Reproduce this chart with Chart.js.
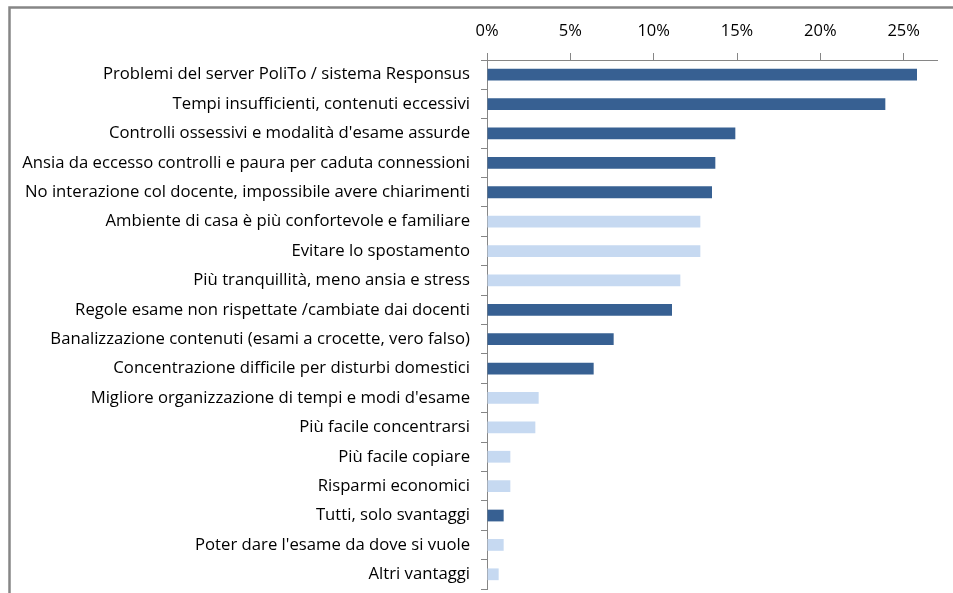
<!DOCTYPE html>
<html>
<head>
<meta charset="utf-8">
<script src="https://cdn.jsdelivr.net/npm/chart.js@4/dist/chart.umd.min.js"></script>
<style>
  html, body { margin: 0; padding: 0; background: #fff; }
  #wrap { width: 953px; height: 593px; }
</style>
</head>
<body>
<div id="wrap"><canvas id="chart" width="953" height="593"></canvas></div>
<script>
const categories = [
  "Problemi del server PoliTo / sistema Responsus",
  "Tempi insufficienti, contenuti eccessivi",
  "Controlli ossessivi e modalità d'esame assurde",
  "Ansia da eccesso controlli e paura per caduta connessioni",
  "No interazione col docente, impossibile avere chiarimenti",
  "Ambiente di casa è più confortevole e familiare",
  "Evitare lo spostamento",
  "Più tranquillità, meno ansia e stress",
  "Regole esame non rispettate /cambiate dai docenti",
  "Banalizzazione contenuti (esami a crocette, vero falso)",
  "Concentrazione difficile per disturbi domestici",
  "Migliore organizzazione di tempi e modi d'esame",
  "Più facile concentrarsi",
  "Più facile copiare",
  "Risparmi economici",
  "Tutti, solo svantaggi",
  "Poter dare l'esame da dove si vuole",
  "Altri vantaggi"
];
const percentages = [25.8, 23.9, 14.9, 13.7, 13.5, 12.8, 12.8, 11.6, 11.1, 7.6, 6.4, 3.1, 2.9, 1.4, 1.4, 1.0, 1.0, 0.7];
// true = svantaggio (dark), false = vantaggio (light)
const isDisadvantage = [true, true, true, true, true, false, false, false, true, true, true, false, false, false, false, true, false, false];
const xTicks = [0, 5, 10, 15, 20, 25];

const DARK = "#376092";
const LIGHT = "#c6d9f1";
const AXIS = "#868686";
const FONT = "'Open Sans', sans-serif";

const frame = {
  id: "frame",
  beforeDraw(chart) {
    const ctx = chart.ctx;
    ctx.save();
    ctx.strokeStyle = AXIS;
    ctx.lineWidth = 2.5;
    ctx.strokeRect(9.5, 7.5, 1200, 1200);
    ctx.restore();
  }
};

new Chart(document.getElementById("chart"), {
  type: "bar",
  data: {
    labels: categories,
    datasets: [{
      data: percentages,
      backgroundColor: isDisadvantage.map(d => (d ? DARK : LIGHT)),
      barPercentage: 0.4,
      categoryPercentage: 1.0
    }]
  },
  options: {
    indexAxis: "y",
    responsive: false,
    animation: false,
    events: [],
    layout: { padding: { left: 0, right: 16, top: 0, bottom: 4 } },
    plugins: { legend: { display: false }, tooltip: { enabled: false } },
    scales: {
      x: {
        position: "top",
        min: 0,
        max: 27,
        afterBuildTicks(scale) {
          scale.ticks = xTicks.map(v => ({ value: v }));
        },
        afterFit(scale) {
          scale.height = 60;
          scale.paddingLeft = 0;
          scale.paddingRight = 0;
        },
        grid: { drawOnChartArea: false, tickLength: 7, color: AXIS },
        border: { color: AXIS, width: 1 },
        ticks: {
          padding: 12,
          color: "#000",
          font: { family: FONT, size: 16.5 },
          callback: v => v + "%"
        }
      },
      y: {
        afterFit(scale) {
          scale.width = 487;
          scale.paddingTop = 0;
          scale.paddingBottom = 0;
        },
        grid: { drawOnChartArea: false, offset: true, tickLength: 6, color: AXIS },
        border: { color: AXIS, width: 1 },
        ticks: {
          padding: 11,
          color: "#000",
          autoSkip: false,
          font: { family: FONT, size: 16.7 }
        }
      }
    }
  },
  plugins: [frame]
});
</script>
</body>
</html>
